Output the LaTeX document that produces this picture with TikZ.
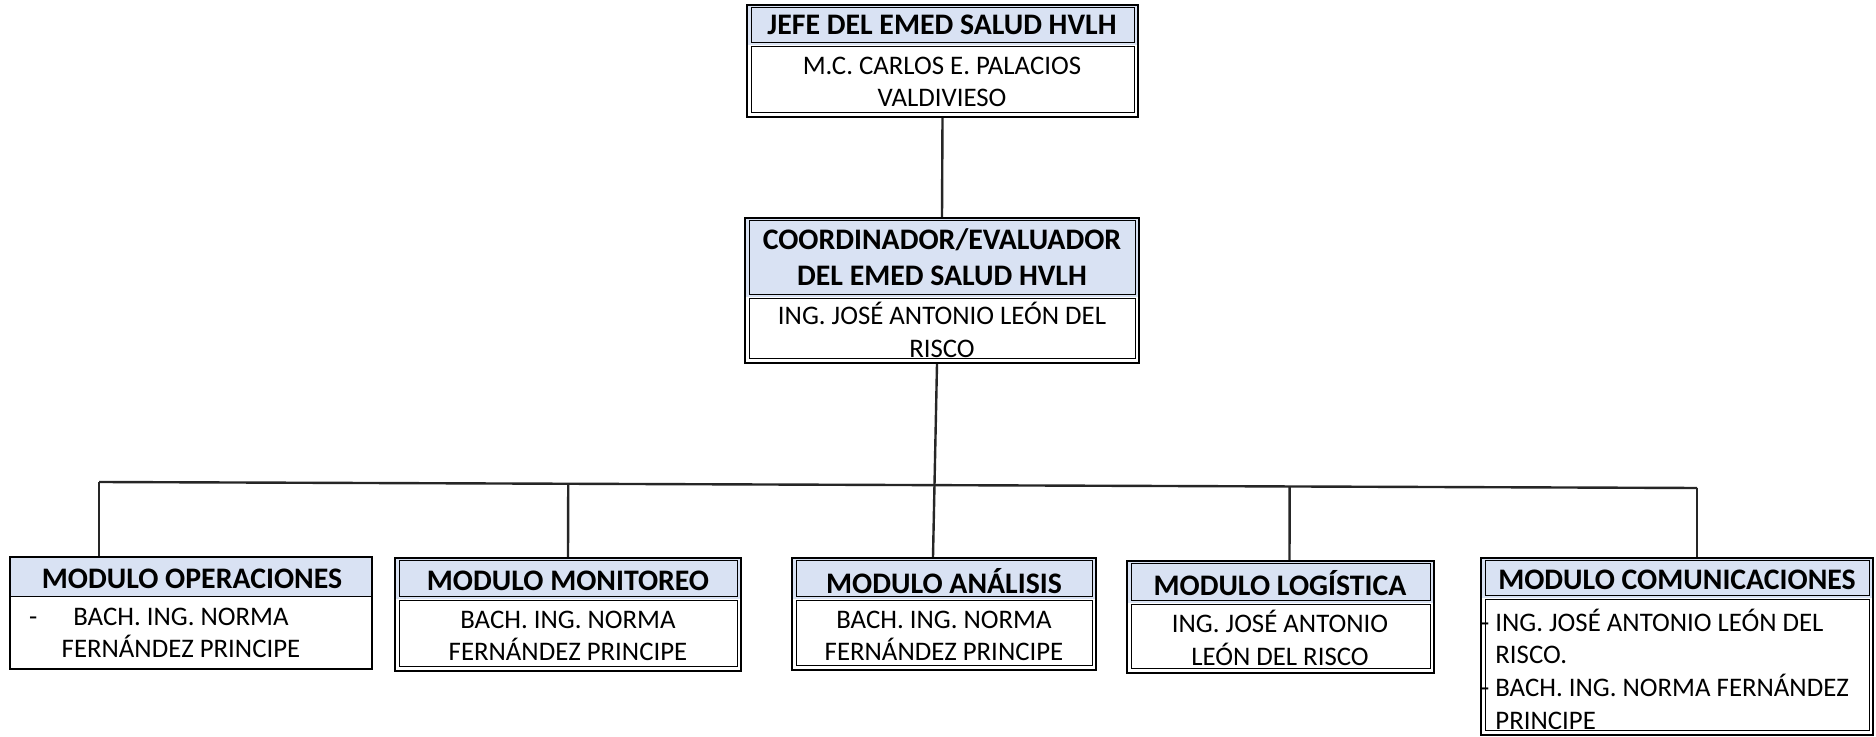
\documentclass[tikz,border=0pt]{standalone}
\usepackage{fontspec}
\setmainfont{Carlito}
\usetikzlibrary{fit,calc}
\definecolor{hdrblue}{RGB}{217,226,243}
\newcommand{\hdrfont}{\fontsize{14.9pt}{18pt}\selectfont\bfseries}
\newcommand{\bodyfont}{\fontsize{13.4pt}{16.35pt}\selectfont}
\tikzset{
  outerbox/.style={draw=black, line width=1.2pt, inner sep=0pt},
  innerline/.style={draw=black, line width=0.5pt},
  hdrtext/.style={font=\hdrfont, align=center, inner sep=0pt, text=black},
  bodytext/.style={font=\bodyfont, align=center, inner sep=0pt, text=black},
  conn/.style={draw=black!85, line width=1.2pt},
}
% double-bordered box: name, x1, y1, x2, ysep, y2
\newcommand{\OrgBox}[6]{%
  \fill[hdrblue] (#2,#3) rectangle (#4,#5);
  \draw[innerline] ({#2+4},{#3+3}) rectangle ({#4-4},{#5-2});
  \draw[innerline] ({#2+4},{#5+2}) rectangle ({#4-4},{#6-4});
  \node[outerbox, fit={(#2,#3)(#4,#6)}] (#1) {};
}
% single-bordered box
\newcommand{\OrgBoxSingle}[6]{%
  \fill[hdrblue] (#2,#3) rectangle (#4,#5);
  \draw[innerline] (#2,#5) -- (#4,#5);
  \node[outerbox, fit={(#2,#3)(#4,#6)}] (#1) {};
}
\begin{document}
\begin{tikzpicture}[x=0.5pt,y=-0.5pt]
\useasboundingbox (0,0) rectangle (1876,737);

% top box
\OrgBox{jefe}{747}{5}{1138}{45}{117}
\node[hdrtext] (jefeh) at (942,25) {JEFE DEL EMED SALUD HVLH};
\node[bodytext] (jefeb) at (942,82) {M.C. CARLOS E. PALACIOS\\VALDIVIESO};

% coordinator
\OrgBox{coord}{745}{218}{1139}{297}{363}
\node[hdrtext] (coordh) at (942,257) {COORDINADOR/EVALUADOR\\DEL EMED SALUD HVLH};
\node[bodytext] (coordb) at (942,330) {ING. JOSÉ ANTONIO LEÓN DEL\\RISCO};

% modules
\OrgBoxSingle{oper}{10}{557}{372}{597}{669}
\node[hdrtext] (operh) at (192,579) {MODULO OPERACIONES};
\node[bodytext] (operb) at (181,633) {\llap{-\hspace{18pt}}BACH. ING. NORMA\\FERNÁNDEZ PRINCIPE};

\OrgBox{monit}{395}{558}{741}{599}{671}
\node[hdrtext] (monith) at (568,581) {MODULO MONITOREO};
\node[bodytext] (monitb) at (568,636) {BACH. ING. NORMA\\FERNÁNDEZ PRINCIPE};

\OrgBox{anal}{792}{558}{1096}{599}{670}
\node[hdrtext] (analh) at (944,581) {MODULO ANÁLISIS};
\node[bodytext] (analb) at (944,636) {BACH. ING. NORMA\\FERNÁNDEZ PRINCIPE};

\OrgBox{logis}{1127}{561}{1434}{603}{673}
\node[hdrtext] (logish) at (1280,583) {MODULO LOGÍSTICA};
\node[bodytext] (logisb) at (1280,638) {ING. JOSÉ ANTONIO\\LEÓN DEL RISCO};

\OrgBox{comun}{1481}{558}{1873}{598}{735}
\node[hdrtext] (comunh) at (1677,580) {MODULO COMUNICACIONES};
\node[bodytext, align=left, anchor=west] (comunb) at (1495,669)
  {\llap{-\hspace{3pt}}ING. JOSÉ ANTONIO LEÓN DEL\\RISCO.\\\llap{-\hspace{3pt}}BACH. ING. NORMA FERNÁNDEZ\\PRINCIPE};

% connectors
\draw[conn] (jefe.south) -- (coord.north);
\draw[conn] ([xshift=-2.5pt]coord.south) -- ([xshift=-5.5pt]anal.north);
\coordinate (busL) at (99,482);
\coordinate (busR) at (1697,488);
\draw[conn] (busL) -- (busR);
\draw[conn] (busL) -- (busL |- oper.north);
\draw[conn] ($(busL)!(monit.north)!(busR)$) -- (monit.north);
\draw[conn] ($(busL)!([xshift=4.5pt]logis.north)!(busR)$) -- ([xshift=4.5pt]logis.north);
\draw[conn] (busR) -- (busR |- comun.north);
\end{tikzpicture}
\end{document}
